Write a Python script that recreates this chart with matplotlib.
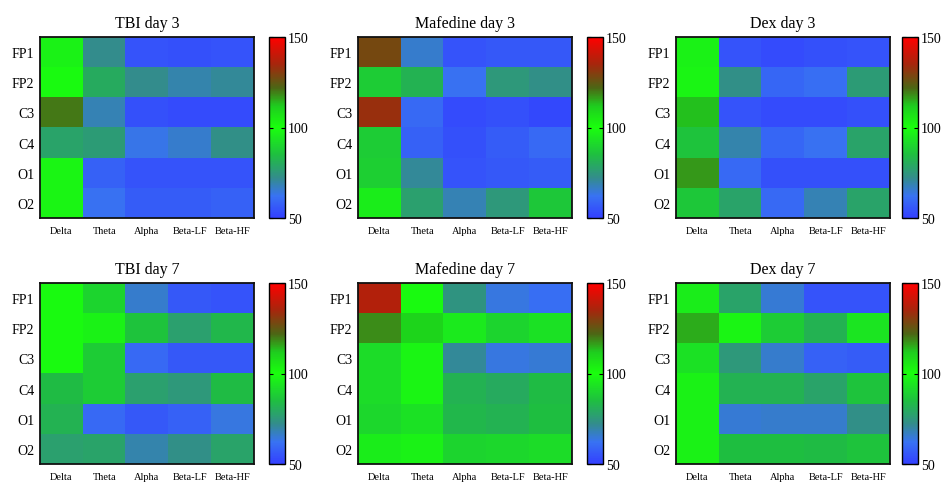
import numpy as np
import matplotlib
matplotlib.use("Agg")
import matplotlib.pyplot as plt
from matplotlib.colors import LinearSegmentedColormap

plt.rcParams['font.family'] = ['Liberation Serif', 'DejaVu Serif']

bands = ['Delta', 'Theta', 'Alpha', 'Beta-LF', 'Beta-HF']
leads = ['FP1', 'FP2', 'C3', 'C4', 'O1', 'O2']

# rows = leads, cols = bands (values in %)
tbi_d3 = [[97, 72, 55, 54, 55],
          [99, 80, 72, 69, 71],
          [120, 68, 54, 53, 53],
          [78, 76, 63, 66, 73],
          [98, 58, 55, 55, 55],
          [98, 62, 57, 57, 58]]
maf_d3 = [[128, 66, 55, 56, 56],
          [88, 82, 62, 75, 73],
          [133, 60, 53, 54, 52],
          [88, 58, 54, 57, 60],
          [89, 71, 55, 56, 57],
          [96, 77, 68, 75, 87]]
dex_d3 = [[97, 55, 53, 54, 55],
          [98, 73, 59, 61, 76],
          [113, 55, 53, 53, 54],
          [86, 69, 59, 62, 78],
          [117, 60, 54, 54, 54],
          [87, 78, 60, 68, 78]]
tbi_d7 = [[99, 90, 66, 56, 55],
          [99, 97, 86, 77, 83],
          [99, 88, 60, 56, 56],
          [84, 88, 77, 75, 84],
          [82, 60, 56, 58, 64],
          [77, 78, 69, 73, 78]]
maf_d7 = [[137, 99, 74, 64, 61],
          [118, 110, 95, 90, 93],
          [92, 98, 71, 64, 65],
          [92, 98, 82, 80, 84],
          [91, 93, 83, 82, 85],
          [96, 97, 90, 91, 92]]
dex_d7 = [[96, 78, 65, 55, 55],
          [115, 98, 88, 82, 94],
          [93, 75, 66, 58, 57],
          [97, 82, 82, 78, 86],
          [97, 65, 66, 66, 73],
          [97, 85, 85, 84, 86]]

titles = ['TBI day 3', 'Mafedine day 3', 'Dex day 3',
          'TBI day 7', 'Mafedine day 7', 'Dex day 7']
panels = [tbi_d3, maf_d3, dex_d3, tbi_d7, maf_d7, dex_d7]

# blue -> teal -> green -> olive -> red
nodes = [(50, (0.20, 0.25, 1.00)),
         (62, (0.22, 0.45, 0.95)),
         (72, (0.20, 0.55, 0.55)),
         (85, (0.12, 0.75, 0.25)),
         (100, (0.10, 1.00, 0.05)),
         (112, (0.12, 0.80, 0.12)),
         (122, (0.30, 0.40, 0.08)),
         (135, (0.65, 0.15, 0.05)),
         (150, (1.00, 0.00, 0.00))]
cmap = LinearSegmentedColormap.from_list(
    'bgr', [((v - 50) / 100, c) for v, c in nodes])

W, H = 944, 485
fig = plt.figure(figsize=(W / 100, H / 100), dpi=100)

ax_left = [40, 358, 676]
cb_left = [269, 587, 902]
row_top = [38, 284]
ax_w, ax_h = 214, 181
cb_w = 16

for k, (data, title) in enumerate(zip(panels, titles)):
    r, c = divmod(k, 3)
    x0 = ax_left[c]
    y0 = H - row_top[r] - ax_h
    ax = fig.add_axes([x0 / W, y0 / H, ax_w / W, ax_h / H])
    im = ax.imshow(np.array(data), cmap=cmap, vmin=50, vmax=150,
                   aspect='auto', interpolation='nearest')
    ax.set_xticks(range(len(bands)))
    ax.set_xticklabels(bands, fontsize=7.5)
    ax.set_yticks(range(len(leads)))
    ax.set_yticklabels(leads, fontsize=10)
    ax.tick_params(axis='y', length=0, pad=4)
    ax.tick_params(axis='x', length=0, pad=6)
    for s in ax.spines.values():
        s.set_linewidth(1.3)
        s.set_color('#111111')
    ax.set_title(title, fontsize=11.5, pad=7)

    cax = fig.add_axes([cb_left[c] / W, y0 / H, cb_w / W, ax_h / H])
    cb = fig.colorbar(im, cax=cax, ticks=[50, 100, 150])
    cb.ax.tick_params(labelsize=10, direction='in', length=3,
                      left=True, right=True, width=0.8, pad=2)
    cb.outline.set_linewidth(1.0)

fig.savefig('out.png', dpi=100)
